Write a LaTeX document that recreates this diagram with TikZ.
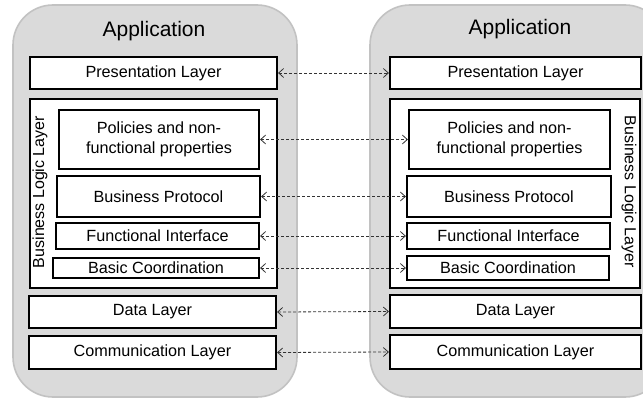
\documentclass[tikz,border=0pt]{standalone}
\usepackage{fontspec}
\setmainfont{Liberation Sans}
\usetikzlibrary{arrows.meta,fit}
\definecolor{contfill}{HTML}{DADADA}
\definecolor{contline}{HTML}{C2C2C2}
\definecolor{connline}{HTML}{333333}
\tikzset{
  container/.style={fill=contfill, draw=contline, line width=1.6pt, rounded corners=40pt},
  layerbox/.style={draw=black, fill=white, line width=2.2pt, inner sep=0pt},
  boxtext/.style={inner sep=0pt, font=\fontsize{16.2}{20.5}\selectfont, align=center, text=black},
  title/.style={font=\fontsize{21}{24}\selectfont, text=black},
  sidelabel/.style={font=\fontsize{16}{18}\selectfont, text=black},
  conn/.style={draw=connline, line width=0.8pt, dash pattern=on 3pt off 2pt, {Straight Barb[length=5pt,width=9pt,line width=0.8pt]}-{Straight Barb[length=5pt,width=9pt,line width=0.8pt]}}
}
\begin{document}
\begin{tikzpicture}[x=1pt,y=-1pt]
\useasboundingbox (0,0) rectangle (643,398);
\clip (0,0) rectangle (643,398);
\fill[white] (0,0) rectangle (643,398);
% containers
\path[container] (13,5) rectangle (297,397);
\path[container] (370,5) rectangle (665,397);
\node[title] (lapp) at (154,31) {Application};
\node[title] (rapp) at (520,29) {Application};
% left side
\node[layerbox, fit={(30,57)(277,89)}] (lpl) {};
\node[layerbox, fit={(30,99)(277,288)}] (lbl) {};
\node[layerbox, fit={(59,110)(259,169)}] (lpol) {};
\node[layerbox, fit={(57,176)(260,217)}] (lbp) {};
\node[layerbox, fit={(56,223)(259,249)}] (lfi) {};
\node[layerbox, fit={(53,258)(259,278)}] (lbc) {};
\node[layerbox, fit={(29,296)(276,328)}] (ldl) {};
\node[layerbox, fit={(29,336)(276,369)}] (lcl) {};
\node[boxtext] (lplt) at (lpl.center) {Presentation Layer};
\node[boxtext] (lpolt) at (lpol.center) {Policies and non-\\functional properties};
\node[boxtext] (lbpt) at (lbp.center) {Business Protocol};
\node[boxtext] (lfit) at (lfi.center) {Functional Interface};
\node[boxtext] (lbct) at (lbc.center) {Basic Coordination};
\node[boxtext] (ldlt) at (ldl.center) {Data Layer};
\node[boxtext] (lclt) at (lcl.center) {Communication Layer};
\node[sidelabel, rotate=90] (lbltext) at (40,192) {Business Logic Layer};
% right side
\node[layerbox, fit={(390,57)(641,89)}] (rpl) {};
\node[layerbox, fit={(390,99)(640,288)}] (rbl) {};
\node[layerbox, fit={(409,110)(610,169)}] (rpol) {};
\node[layerbox, fit={(407,176)(611,217)}] (rbp) {};
\node[layerbox, fit={(407,223)(610,249)}] (rfi) {};
\node[layerbox, fit={(407,256)(609,280)}] (rbc) {};
\node[layerbox, fit={(390,295)(641,328)}] (rdl) {};
\node[layerbox, fit={(390,335)(641,369)}] (rcl) {};
\node[boxtext] (rplt) at (rpl.center) {Presentation Layer};
\node[boxtext] (rpolt) at (rpol.center) {Policies and non-\\functional properties};
\node[boxtext] (rbpt) at (rbp.center) {Business Protocol};
\node[boxtext] (rfit) at (rfi.center) {Functional Interface};
\node[boxtext] (rbct) at (rbc.center) {Basic Coordination};
\node[boxtext] (rdlt) at (rdl.center) {Data Layer};
\node[boxtext] (rclt) at (rcl.center) {Communication Layer};
\node[sidelabel, rotate=-90] (rbltext) at (629,192) {Business Logic Layer};
% connectors
\draw[conn] (lpl.east) -- (rpl.west);
\draw[conn] (lpol.east) -- (rpol.west);
\draw[conn] (lbp.east) -- (rbp.west);
\draw[conn] (lfi.east) -- (rfi.west);
\draw[conn] (lbc.east) -- (rbc.west);
\draw[conn] (ldl.east) -- (rdl.west);
\draw[conn] (lcl.east) -- (rcl.west);
\end{tikzpicture}
\end{document}
